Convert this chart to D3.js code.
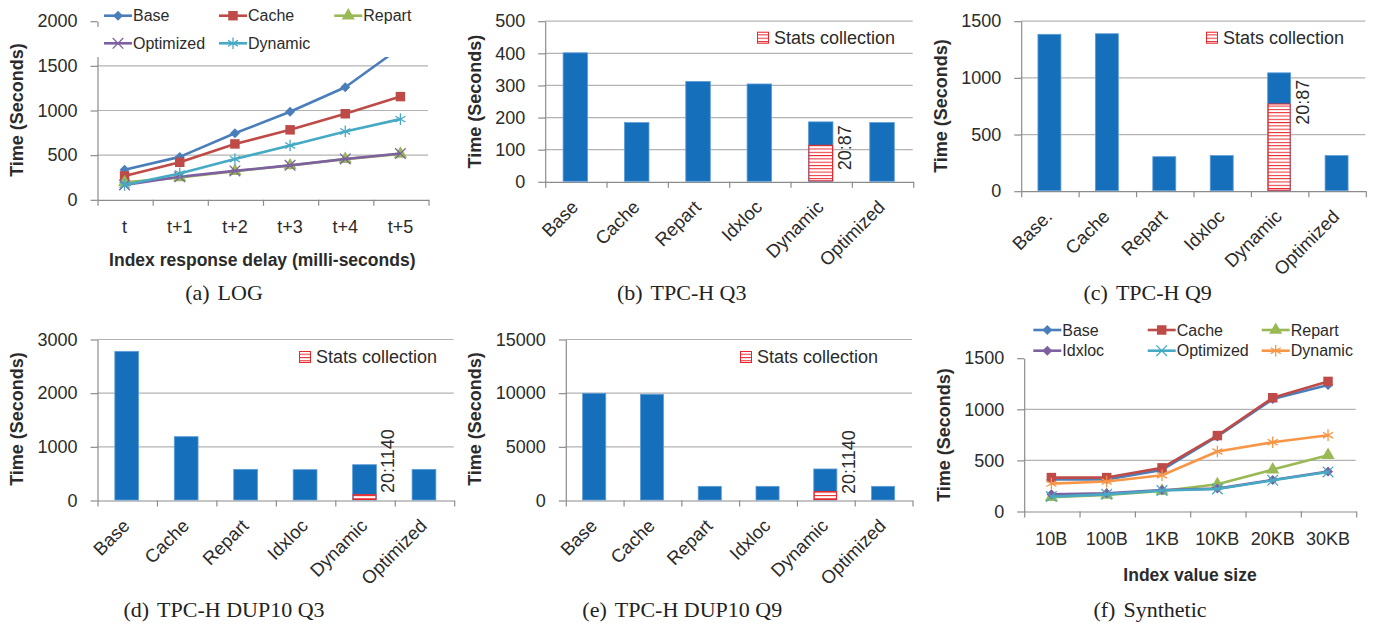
<!DOCTYPE html>
<html>
<head>
<meta charset="utf-8">
<script src="https://cdn.jsdelivr.net/npm/d3@7"></script>
<style>
  body { margin: 0; background: #fff; }
  svg text { font-family: "Liberation Sans", Arial, sans-serif; fill: #2b2b2b; }
  svg text.caption { font-family: "Liberation Serif", "Times New Roman", serif; fill: #222; }
</style>
</head>
<body>
<svg id="chart" width="1377" height="629"></svg>
<script>
// (a) LOG
var logCats = ["t", "t+1", "t+2", "t+3", "t+4", "t+5"];
var logBase = [330, 475, 740, 980, 1255, 1700];
var logCache = [262, 415, 620, 778, 958, 1150];
var logRepart = [190, 245, 315, 378, 450, 508];
var logOptimized = [160, 252, 318, 380, 452, 512];
var logDynamic = [160, 290, 450, 603, 760, 898];
var logTicks = [0, 500, 1000, 1500, 2000];

// bar panels
var barCats = ["Base", "Cache", "Repart", "Idxloc", "Dynamic", "Optimized"];
var q9Cats = ["Base.", "Cache", "Repart", "Idxloc", "Dynamic", "Optimized"];
var q3Times = [400, 183, 311, 303, 185, 183];
var q3Stats = 112;
var q3Ticks = [0, 100, 200, 300, 400, 500];
var q9Times = [1380, 1385, 300, 310, 1040, 310];
var q9Stats = 765;
var q9Ticks = [0, 500, 1000, 1500];
var dupQ3Times = [2770, 1180, 571, 565, 658, 571];
var dupQ3Stats = 100;
var dupQ3Ticks = [0, 1000, 2000, 3000];
var dupQ9Times = [9940, 9850, 1273, 1273, 2890, 1273];
var dupQ9Stats = 790;
var dupQ9Ticks = [0, 5000, 10000, 15000];

// (f) Synthetic
var synCats = ["10B", "100B", "1KB", "10KB", "20KB", "30KB"];
var synBase = [308, 308, 402, 730, 1095, 1232];
var synCache = [327, 327, 422, 738, 1108, 1268];
var synRepart = [134, 157, 196, 261, 405, 546];
var synIdxloc = [163, 173, 206, 219, 304, 386];
var synOptimized = [141, 163, 200, 215, 300, 382];
var synDynamic = [268, 288, 350, 582, 673, 742];
var synTicks = [0, 500, 1000, 1500];

var AXIS = "#8c8c8c", GRID = "#b3b3b3", BAR = "#156fbb", RED = "#e8262a";

var svg = d3.select("#chart");
var defs = svg.append("defs");
var hatch = defs.append("pattern").attr("id", "stats")
  .attr("patternUnits", "userSpaceOnUse").attr("width", 8).attr("height", 3.3);
hatch.append("rect").attr("width", 8).attr("height", 3.3).attr("fill", "#fff");
hatch.append("rect").attr("y", 0).attr("width", 8).attr("height", 1).attr("fill", RED);

function yAxisAndGrid(p, y, ticks, gridTicks) {
  var g = svg.append("g");
  g.selectAll("line.grid").data(gridTicks).enter().append("line")
    .attr("x1", p.x0).attr("x2", p.x1)
    .attr("y1", function(d) { return y(d) + 0.5; })
    .attr("y2", function(d) { return y(d) + 0.5; })
    .attr("stroke", GRID).attr("stroke-width", 1.2);
  var ax = svg.append("g").attr("transform", "translate(" + (p.x0 + 0.5) + ",0.5)")
    .call(d3.axisLeft(y).tickValues(ticks).tickFormat(d3.format("d"))
      .tickSize(7).tickSizeOuter(0).tickPadding(13));
  ax.selectAll("path, line").attr("stroke", AXIS).attr("stroke-width", 1.2);
  ax.selectAll("text").attr("font-size", 18).attr("fill", "#2b2b2b")
    .style("font-family", "'Liberation Sans', Arial, sans-serif");
  // category boundary ticks
  var bx = d3.scaleLinear().domain([0, 6]).range([p.x0, p.x1]);
  var xa = svg.append("g").attr("transform", "translate(0.5," + (y(0) + 0.5) + ")")
    .call(d3.axisBottom(bx).ticks(6).tickSize(6).tickSizeOuter(0).tickFormat(""));
  xa.selectAll("path, line").attr("stroke", AXIS).attr("stroke-width", 1.2);
}

function titles(p) {
  svg.append("text").attr("transform", "translate(" + p.yTitle[0] + "," + p.yTitle[1] + ") rotate(-90)")
    .attr("text-anchor", "middle").attr("dy", "0.35em")
    .attr("font-size", 18).attr("font-weight", "bold").attr("fill", "#222")
    .text("Time (Seconds)");
  if (p.xTitle) {
    svg.append("text").attr("x", p.xTitle[0]).attr("y", p.xTitle[1])
      .attr("text-anchor", "middle").attr("dy", "0.35em")
      .attr("font-size", 17.5).attr("font-weight", "bold").attr("fill", "#222")
      .text(p.xTitleText);
  }
  var c = svg.append("text").attr("class", "caption")
    .attr("x", p.caption[0]).attr("y", p.caption[1])
    .attr("text-anchor", "middle").attr("font-size", 22);
  c.append("tspan").text(p.tag);
  c.append("tspan").attr("dx", 8).text(p.capText);
}

function barPanel(p, cats, times, stats, ticks) {
  var y = d3.scaleLinear().domain([0, ticks[ticks.length - 1]]).range([p.yZero, p.yTop]);
  var x = d3.scaleBand().domain(cats).range([p.x0, p.x1]).paddingInner(0.6).paddingOuter(0.3);
  yAxisAndGrid(p, y, ticks, ticks.slice(1));

  svg.append("g").selectAll("rect").data(times).enter().append("rect")
    .attr("x", function(d, i) { return x(cats[i]); })
    .attr("y", function(d) { return y(d); })
    .attr("width", x.bandwidth())
    .attr("height", function(d) { return y(0) - y(d); })
    .attr("fill", BAR).attr("stroke", "#5f9ed8").attr("stroke-width", 0.8);

  // stats collection part of the Dynamic bar
  var dyn = cats[4];
  svg.append("rect")
    .attr("x", x(dyn) + 0.5).attr("y", y(stats))
    .attr("width", x.bandwidth() - 1).attr("height", y(0) - y(stats) - 0.5)
    .attr("fill", "url(#stats)").attr("stroke", RED).attr("stroke-width", 1);

  svg.append("text")
    .attr("transform", "translate(" + (x(dyn) + x.bandwidth() + 18) + "," + (y(0) - p.labelLift) + ") rotate(-90)")
    .attr("font-size", 18).attr("fill", "#222")
    .text(p.ratio);

  // category labels
  svg.append("g").selectAll("text").data(cats).enter().append("text")
    .attr("transform", function(d) {
      return "translate(" + (x(d) + x.bandwidth() / 2 + 4) + "," + (y(0) + 27) + ") rotate(-45)";
    })
    .attr("text-anchor", "end").attr("font-size", 18.5)
    .text(function(d) { return d; });

  // legend
  var lg = svg.append("g").attr("transform", "translate(" + p.legend[0] + "," + p.legend[1] + ")");
  lg.append("rect").attr("x", 0.5).attr("y", -5.5).attr("width", 11).attr("height", 11)
    .attr("fill", "url(#stats)").attr("stroke", RED).attr("stroke-width", 1);
  lg.append("text").attr("x", 17).attr("dy", "0.35em").attr("font-size", 18).text("Stats collection");

  titles(p);
}

function markerPath(kind) {
  if (kind == "diamond") return d3.symbol().type(d3.symbolSquare).size(50)();
  if (kind == "square") return d3.symbol().type(d3.symbolSquare).size(90)();
  if (kind == "triangle") return d3.symbol().type(d3.symbolTriangle).size(75)();
  if (kind == "x") return d3.symbol().type(d3.symbolX).size(75)();
  return d3.symbol().type(d3.symbolAsterisk).size(95)();
}

function drawMarker(g, kind, color, px, py) {
  var m = g.append("path").attr("d", markerPath(kind))
    .attr("transform", "translate(" + px + "," + py + ")" + (kind == "diamond" ? " rotate(45)" : ""));
  if (kind == "x" || kind == "star") {
    m.attr("fill", "none").attr("stroke", color).attr("stroke-width", 1.3);
  } else {
    m.attr("fill", color);
  }
}

function linePanel(p, cats, series, ticks) {
  var y = d3.scaleLinear().domain([0, ticks[ticks.length - 1]]).range([p.yZero, p.yTop]);
  var x = d3.scalePoint().domain(cats).range([p.x0, p.x1]).padding(0.5);
  yAxisAndGrid(p, y, ticks, ticks.slice(1, ticks.length - 1));

  var line = d3.line().x(function(d, i) { return x(cats[i]); }).y(function(d) { return y(d); });
  series.forEach(function(s) {
    var g = svg.append("g");
    g.append("path").datum(s.values).attr("d", line)
      .attr("fill", "none").attr("stroke", s.color).attr("stroke-width", 2.6)
      .attr("stroke-linejoin", "round");
    s.values.forEach(function(v, i) { drawMarker(g, s.marker, s.color, x(cats[i]), y(v)); });
  });

  if (p.cover) {
    svg.append("rect").attr("x", p.cover[0]).attr("y", p.cover[1])
      .attr("width", p.cover[2]).attr("height", p.cover[3]).attr("fill", "#fff");
  }

  svg.append("g").selectAll("text").data(cats).enter().append("text")
    .attr("x", function(d) { return x(d); }).attr("y", y(0) + 34)
    .attr("text-anchor", "middle").attr("font-size", 18)
    .text(function(d) { return d; });

  // legend, three per row
  series.forEach(function(s, i) {
    var lx = p.legendCols[i % 3], ly = p.legendRows[Math.floor(i / 3)];
    var g = svg.append("g");
    g.append("line").attr("x1", lx).attr("x2", lx + 28).attr("y1", ly).attr("y2", ly)
      .attr("stroke", s.color).attr("stroke-width", 2.6);
    drawMarker(g, s.marker, s.color, lx + 14, ly);
    g.append("text").attr("x", lx + 29).attr("y", ly).attr("dy", "0.35em")
      .attr("font-size", 16).text(s.name);
  });

  titles(p);
}

var C = { blue: "#4a7ebb", red: "#be4b48", green: "#98b954", purple: "#7d60a0", cyan: "#46aac5", orange: "#f79646" };

linePanel({ x0: 97, x1: 428, yZero: 199.3, yTop: 20.7, cover: [96, 27, 333, 30],
            legendCols: [104, 219, 334.3], legendRows: [15.7, 43.3],
            yTitle: [16.7, 110], xTitle: [262.3, 260], xTitleText: "Index response delay (milli-seconds)",
            caption: [224, 300], tag: "(a)", capText: "LOG" },
  logCats,
  [{ name: "Base", values: logBase, color: C.blue, marker: "diamond" },
   { name: "Cache", values: logCache, color: C.red, marker: "square" },
   { name: "Repart", values: logRepart, color: C.green, marker: "triangle" },
   { name: "Optimized", values: logOptimized, color: C.purple, marker: "x" },
   { name: "Dynamic", values: logDynamic, color: C.cyan, marker: "star" }],
  logTicks);

barPanel({ x0: 544.7, x1: 912.7, yZero: 181.3, yTop: 20.7, labelLift: 11, ratio: "20:87",
           legend: [757, 37.7], yTitle: [475, 101.7], caption: [681.7, 300], tag: "(b)", capText: "TPC-H Q3" },
  barCats, q3Times, q3Stats, q3Ticks);

barPanel({ x0: 1020.7, x1: 1365.3, yZero: 190.7, yTop: 20.7, labelLift: 66, ratio: "20:87",
           legend: [1206, 37.7], yTitle: [940.7, 106], caption: [1147.7, 300], tag: "(c)", capText: "TPC-H Q9" },
  q9Cats, q9Times, q9Stats, q9Ticks);

barPanel({ x0: 97, x1: 453.7, yZero: 500, yTop: 339, labelLift: 7, ratio: "20:1140",
           legend: [299, 357], yTitle: [16.7, 419], caption: [224, 617], tag: "(d)", capText: "TPC-H DUP10 Q3" },
  barCats, dupQ3Times, dupQ3Stats, dupQ3Ticks);

barPanel({ x0: 565.3, x1: 912, yZero: 500, yTop: 339, labelLift: 6, ratio: "20:1140",
           legend: [740, 357], yTitle: [475, 419], caption: [682.3, 617], tag: "(e)", capText: "TPC-H DUP10 Q9" },
  barCats, dupQ9Times, dupQ9Stats, dupQ9Ticks);

linePanel({ x0: 1023.7, x1: 1355.7, yZero: 511, yTop: 357.7,
            legendCols: [1033.3, 1147.7, 1261.7], legendRows: [330, 350.7],
            yTitle: [944, 435], xTitle: [1190, 575], xTitleText: "Index value size",
            caption: [1150, 617], tag: "(f)", capText: "Synthetic" },
  synCats,
  [{ name: "Base", values: synBase, color: C.blue, marker: "diamond" },
   { name: "Cache", values: synCache, color: C.red, marker: "square" },
   { name: "Repart", values: synRepart, color: C.green, marker: "triangle" },
   { name: "Idxloc", values: synIdxloc, color: C.purple, marker: "diamond" },
   { name: "Optimized", values: synOptimized, color: C.cyan, marker: "x" },
   { name: "Dynamic", values: synDynamic, color: C.orange, marker: "star" }],
  synTicks);
</script>
</body>
</html>
